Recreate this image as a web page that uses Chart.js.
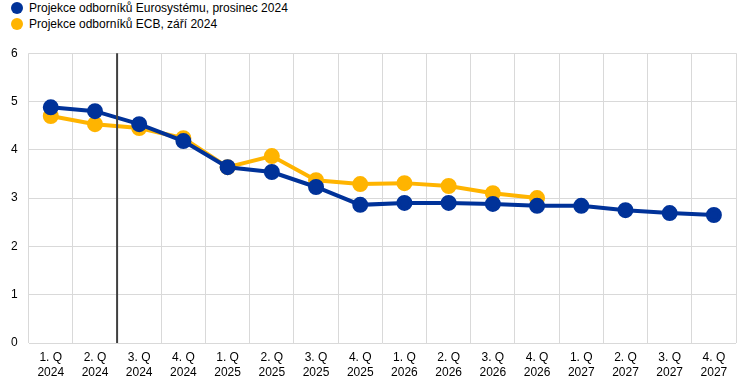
<!DOCTYPE html>
<html>
<head>
<meta charset="utf-8">
<script src="https://cdn.jsdelivr.net/npm/chart.js@4.4.1/dist/chart.umd.min.js"></script>
<style>
  body { margin: 0; background: #fff; font-family: "Liberation Sans", Arial, sans-serif; overflow: hidden; }
  #legend { position: absolute; left: 10px; top: 0px; font-size: 12px; color: #000; }
  .item { height: 16px; line-height: 16px; white-space: nowrap; }
  .dot { display: inline-block; width: 12px; height: 12px; border-radius: 50%; vertical-align: -2px; margin-right: 6px; margin-left: 1px; }
  #wrap { position: absolute; left: 0; top: 35px; width: 746px; height: 358px; }
</style>
</head>
<body>
<div id="legend"></div>
<div id="wrap"><canvas id="c"></canvas></div>
<script>
const labels = [
  ["1. Q", "2024"], ["2. Q", "2024"], ["3. Q", "2024"], ["4. Q", "2024"],
  ["1. Q", "2025"], ["2. Q", "2025"], ["3. Q", "2025"], ["4. Q", "2025"],
  ["1. Q", "2026"], ["2. Q", "2026"], ["3. Q", "2026"], ["4. Q", "2026"],
  ["1. Q", "2027"], ["2. Q", "2027"], ["3. Q", "2027"], ["4. Q", "2027"]
]
const eurosystem = [4.88, 4.80, 4.53, 4.18, 3.64, 3.54, 3.23, 2.86, 2.90, 2.90, 2.88, 2.84, 2.84, 2.75, 2.69, 2.65]
const ecbSept = [4.70, 4.53, 4.45, 4.24, 3.64, 3.87, 3.37, 3.29, 3.31, 3.25, 3.10, 3.00, null, null, null, null]

const seriesNames = ["Projekce odborníků Eurosystému, prosinec 2024", "Projekce odborníků ECB, září 2024"]
const colors = ["#003299", "#FFB400"]

const legend = document.getElementById("legend")
seriesNames.forEach((name, i) => {
    const row = document.createElement("div")
    row.className = "item"
    const dot = document.createElement("span")
    dot.className = "dot"
    dot.style.background = colors[i]
    row.appendChild(dot)
    row.appendChild(document.createTextNode(name))
    legend.appendChild(row)
})

// vertical marker between 2. Q 2024 and 3. Q 2024
const markerLine = {
    id: "markerLine",
    afterDatasetsDraw(chart) {
        const x = chart.scales.x.getPixelForValue(1.5)
        const { top, bottom } = chart.chartArea
        const ctx = chart.ctx
        ctx.save()
        ctx.strokeStyle = "#404040"
        ctx.lineWidth = 2
        ctx.beginPath()
        ctx.moveTo(x, top)
        ctx.lineTo(x, bottom)
        ctx.stroke()
        ctx.restore()
    }
}

new Chart(document.getElementById("c").getContext("2d"), {
    type: "line",
    data: {
        labels: labels,
        datasets: [
            {
                label: seriesNames[1],
                data: ecbSept,
                borderColor: colors[1],
                backgroundColor: colors[1],
                borderWidth: 4,
                pointRadius: 6,
                pointHoverRadius: 6,
                order: 2
            },
            {
                label: seriesNames[0],
                data: eurosystem,
                borderColor: colors[0],
                backgroundColor: colors[0],
                borderWidth: 4,
                pointRadius: 6,
                pointHoverRadius: 6,
                order: 1
            }
        ]
    },
    options: {
        responsive: true,
        maintainAspectRatio: false,
        animation: false,
        layout: { padding: { left: 0, right: 0, top: 8, bottom: 6 } },
        plugins: {
            legend: { display: false },
            tooltip: { enabled: false }
        },
        scales: {
            x: {
                offset: true,
                grid: { color: "#d9d9d9", offset: true, drawTicks: false },
                border: { display: false },
                ticks: {
                    color: "#000",
                    font: { family: "Liberation Sans", size: 12, lineHeight: 1.25 },
                    maxRotation: 0,
                    autoSkip: false,
                    padding: 7
                }
            },
            y: {
                min: 0,
                max: 6,
                grid: { color: "#d9d9d9", drawTicks: false },
                border: { display: false },
                ticks: {
                    stepSize: 1,
                    color: "#000",
                    font: { family: "Liberation Sans", size: 12 },
                    padding: 11
                }
            }
        }
    },
    plugins: [markerLine]
})
</script>
</body>
</html>
